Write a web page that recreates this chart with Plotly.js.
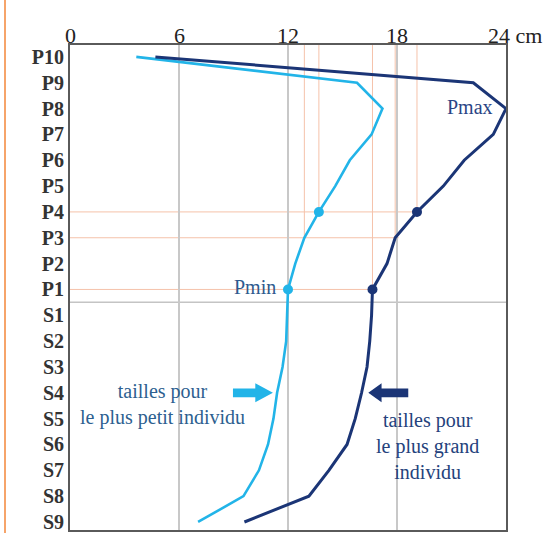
<!DOCTYPE html>
<html>
<head>
<meta charset="utf-8">
<script src="https://cdn.plot.ly/plotly-3.0.1.min.js"></script>
<style>
  html, body { margin: 0; padding: 0; background: #fff; }
  #wrap { position: relative; width: 547px; height: 533px; }
  #edge { position: absolute; left: 4px; top: 0; width: 2px; height: 533px; background: #f6a46a; }
  #chart { position: absolute; left: 0; top: 0; width: 547px; height: 533px; }
</style>
</head>
<body>
<div id="wrap">
  <div id="chart"></div>
  <div id="edge"></div>
</div>
<script>
// Body segments, from P10 at the top down to S9
const segments = ['P10','P9','P8','P7','P6','P5','P4','P3','P2','P1',
                  'S1','S2','S3','S4','S5','S6','S7','S8','S9'];

// Sizes (cm) per segment
const smallest = [3.65, 15.8, 17.2, 16.6, 15.4, 14.6, 13.7, 12.9, 12.4, 12.0,
                  11.95, 11.9, 11.7, 11.4, 11.2, 10.9, 10.4, 9.55, 7.05];
const largest  = [4.7, 22.2, 24.0, 23.3, 21.7, 20.55, 19.1, 17.9, 17.45, 16.65,
                  16.6, 16.5, 16.35, 16.05, 15.7, 15.25, 14.25, 13.15, 9.6];

// Top scale: tick values and their labels (the last one carries the unit)
const xTicks = [0, 6, 12, 18, 24];
const xTickLabels = ['0', '6', '12', '18', '24 cm'];
const markedSegments = ['P4', 'P1'];
const guideSegments = ['P4', 'P3', 'P1'];

const LIGHT = '#22b4e8';
const DARK = '#1b3576';
const GUIDE = '#f5c2aa';
const FONT = 'Liberation Serif';

const idx = s => segments.indexOf(s);
const yPos = segments.map((s, i) => i);

const traces = [
  { x: smallest, y: yPos, mode: 'lines', line: { color: LIGHT, width: 2.6 }, hoverinfo: 'skip' },
  { x: largest, y: yPos, mode: 'lines', line: { color: DARK, width: 3 }, hoverinfo: 'skip' },
  { x: markedSegments.map(s => smallest[idx(s)]), y: markedSegments.map(idx), mode: 'markers',
    marker: { color: LIGHT, size: 10 }, hoverinfo: 'skip' },
  { x: markedSegments.map(s => largest[idx(s)]), y: markedSegments.map(idx), mode: 'markers',
    marker: { color: DARK, size: 10 }, hoverinfo: 'skip' }
];

const shapes = [];
// reference guides: down from the top edge and across from the left edge to each point
guideSegments.forEach(s => {
  const i = idx(s);
  [smallest[i], largest[i]].forEach(v => {
    shapes.push({ type: 'line', layer: 'below', xref: 'x', yref: 'y', x0: v, x1: v,
                  y0: -0.46, y1: i, line: { color: GUIDE, width: 1 } });
  });
  shapes.push({ type: 'line', layer: 'below', xref: 'x', yref: 'y', x0: 0, x1: largest[i] + 0.2,
                y0: i, y1: i, line: { color: GUIDE, width: 1 } });
});
// boundary between the P and S groups
shapes.push({ type: 'line', layer: 'below', xref: 'paper', yref: 'y', x0: 0, x1: 1,
              y0: idx('P1') + 0.5, y1: idx('P1') + 0.5, line: { color: '#c4c4c4', width: 1.5 } });

// block arrows pointing at each curve
function blockArrow(tail, base, tip, yc, color) {
  const sh = 0.17, hh = 0.37;
  return { type: 'path', xref: 'x', yref: 'y', fillcolor: color, line: { width: 0 },
    path: `M ${tail},${yc - sh} L ${base},${yc - sh} L ${base},${yc - hh} L ${tip},${yc} ` +
          `L ${base},${yc + hh} L ${base},${yc + sh} L ${tail},${yc + sh} Z` };
}
shapes.push(blockArrow(8.97, 10.2, 11.17, idx('S4'), LIGHT));
shapes.push(blockArrow(18.62, 17.15, 16.42, idx('S4'), DARK));

// top scale labels, placed just above the frame
const tickAnnotations = xTicks.map((v, k) => {
  const last = k === xTicks.length - 1;
  return { x: v, y: 1, xref: 'x', yref: 'paper', text: xTickLabels[k], showarrow: false,
    xanchor: last ? 'left' : 'center', xshift: last ? -20 : 0,
    yanchor: 'bottom', yshift: -5,
    font: { family: FONT, size: 22, color: '#222' } };
});

const annotations = tickAnnotations.concat([
  { x: 23.4, y: idx('P8'), xref: 'x', yref: 'y', text: 'Pmax', showarrow: false,
    xanchor: 'right', yanchor: 'middle', yshift: 2,
    font: { family: FONT, size: 20, color: '#2a4585' } },
  { x: 11.45, y: idx('P1'), xref: 'x', yref: 'y', text: 'Pmin', showarrow: false,
    xanchor: 'right', yanchor: 'middle', yshift: 2,
    font: { family: FONT, size: 20, color: '#2d5a8e' } },
  { x: 5.1, y: 13.45, xref: 'x', yref: 'y', text: 'tailles pour<br>le plus petit individu',
    showarrow: false, xanchor: 'center', yanchor: 'middle', align: 'center',
    font: { family: FONT, size: 20, color: '#2d5f90' } },
  { x: 19.7, y: 15.05, xref: 'x', yref: 'y', text: 'tailles pour<br>le plus grand<br>individu',
    showarrow: false, xanchor: 'center', yanchor: 'middle', align: 'center',
    font: { family: FONT, size: 20, color: '#24427c' } }
]);

const layout = {
  width: 547, height: 533,
  margin: { l: 70, r: 41, t: 45, b: 3, pad: 0 },
  paper_bgcolor: '#fff', plot_bgcolor: '#fff',
  showlegend: false,
  xaxis: {
    side: 'top', range: [0, 24], tickvals: xTicks, showticklabels: false,
    showgrid: true, gridcolor: '#c8c8c8', gridwidth: 1.5, zeroline: false,
    showline: true, mirror: true, linecolor: '#5a5a5a', linewidth: 2, ticks: ''
  },
  yaxis: {
    range: [18.31, -0.46], tickvals: yPos, ticktext: segments,
    showgrid: false, zeroline: false,
    showline: true, mirror: true, linecolor: '#5a5a5a', linewidth: 2,
    ticks: '', tickfont: { family: FONT, size: 20, color: '#333', weight: 'bold' }
  },
  shapes: shapes,
  annotations: annotations
};

Plotly.newPlot('chart', traces, layout, { displayModeBar: false, staticPlot: true });
</script>
</body>
</html>
